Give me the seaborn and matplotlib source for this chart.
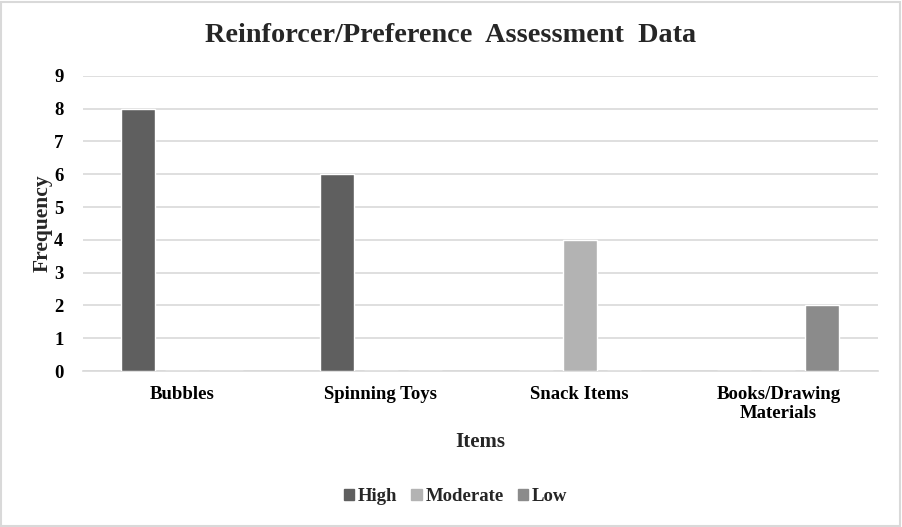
import matplotlib
matplotlib.use("Agg")
import matplotlib.pyplot as plt
import seaborn as sns
import pandas as pd
from matplotlib.patches import Rectangle

items = ["Bubbles", "Spinning Toys", "Snack Items", "Books/Drawing\nMaterials"]
levels = ["High", "Moderate", "Low"]
high = [8, 6, 0, 0]
moderate = [0, 0, 4, 0]
low = [0, 0, 0, 2]
colors = {"High": "#5f5f5f", "Moderate": "#b3b3b3", "Low": "#8b8b8b"}

rows = []
for i, it in enumerate(items):
    for lv, vals in zip(levels, [high, moderate, low]):
        rows.append({"Items": it, "Level": lv, "Frequency": vals[i]})
df = pd.DataFrame(rows)

sns.set_theme(style="white")
plt.rcParams['font.family'] = ['Liberation Serif', 'DejaVu Serif']
plt.rcParams['font.weight'] = 'bold'

fig = plt.figure(figsize=(9.02, 5.27), dpi=100)
ax = fig.add_axes([0.092, 0.296, 0.881, 0.560])

sns.barplot(data=df, x="Items", y="Frequency", hue="Level", hue_order=levels,
            palette=colors, width=0.663, gap=0.227, ax=ax, legend=False,
            saturation=1, errorbar=None, zorder=3)

ax.set_ylim(0, 9)
ax.set_yticks(range(0, 10))
ax.yaxis.grid(True, color="#d9d9d9", linewidth=1.2, zorder=0)
ax.set_axisbelow(True)
for s in ["top", "right", "left"]:
    ax.spines[s].set_visible(False)
ax.spines["bottom"].set_color("#d9d9d9")
ax.spines["bottom"].set_linewidth(1.2)
ax.tick_params(axis="both", length=0, labelsize=13.5, colors="black")
ax.tick_params(axis="x", pad=11)
ax.tick_params(axis="y", pad=14)
ax.set_xticks(range(len(items)))
ax.set_xticklabels(items, fontweight="bold", fontsize=13.5, linespacing=1.15)
for lbl in ax.get_yticklabels():
    lbl.set_fontweight("bold")
ax.set_xlabel("Items", fontsize=15, fontweight="bold", labelpad=7)
ax.set_ylabel("Frequency", fontsize=15.5, fontweight="bold", labelpad=1)

fig.suptitle("Reinforcer/Preference  Assessment  Data", fontsize=20.3,
             fontweight="bold", y=0.957)

handles = [Rectangle((0, 0), 1, 1, color=colors[l]) for l in levels]
fig.legend(handles, levels, loc="center", bbox_to_anchor=(0.505, 0.058), ncol=3,
           frameon=False, prop={"size": 13.5, "weight": "bold"},
           handlelength=0.55, handleheight=0.55, handletextpad=0.2, columnspacing=0.75)

border = Rectangle((0.001, 0.001), 0.997, 0.996, transform=fig.transFigure,
                   fill=False, edgecolor="#d9d9d9", linewidth=1.5)
fig.patches.append(border)

fig.savefig("out.png", dpi=100)
